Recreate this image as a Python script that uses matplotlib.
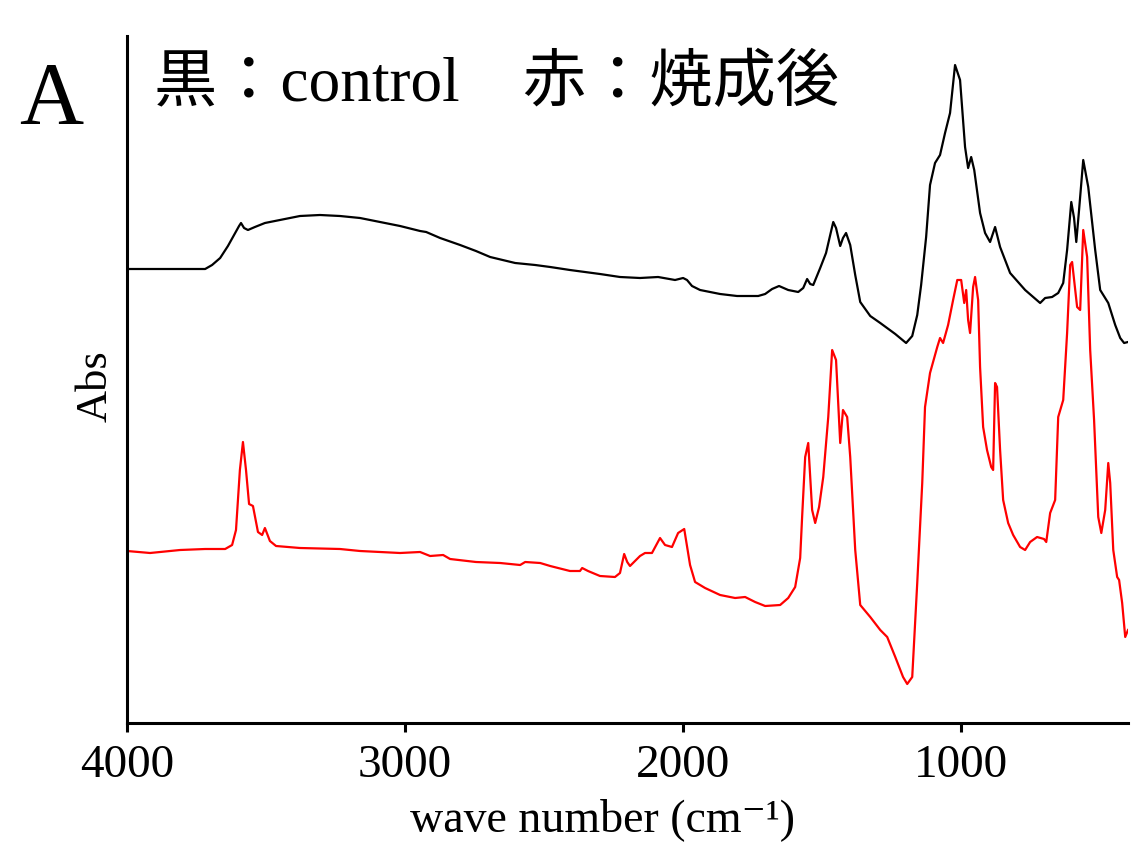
import matplotlib
matplotlib.use("Agg")
import matplotlib.pyplot as plt
import numpy as np

plt.rcParams['font.family'] = ['Liberation Serif', 'Noto Sans CJK JP', 'DejaVu Sans']

# control (black)
wn_control = [4000, 3917, 3809, 3719, 3694, 3665, 3637, 3615, 3597, 3590, 3579, 3565, 3540, 3504,
              3450, 3378, 3306, 3234, 3162, 3090, 3018, 2946, 2924, 2874, 2802, 2745, 2694, 2604,
              2532, 2478, 2407, 2299, 2227, 2155, 2090, 2029, 2000, 1986, 1968, 1939, 1867, 1806,
              1730, 1705, 1680, 1655, 1622, 1586, 1568, 1554, 1543, 1532, 1507, 1486, 1471, 1460,
              1450, 1435, 1425, 1414, 1399, 1381, 1363, 1327, 1291, 1237, 1198, 1176, 1158, 1144,
              1126, 1112, 1094, 1076, 1058, 1040, 1022, 1004, 986, 975, 964, 953, 932, 914, 896,
              878, 860, 824, 770, 716, 698, 673, 651, 633, 619, 604, 594, 586, 576, 561, 543, 518,
              500, 471, 446, 428, 414, 400]
abs_control = [.454, .454, .454, .454, .458, .465, .477, .488, .497, .500, .495, .493, .496, .500,
               .503, .507, .508, .507, .505, .501, .497, .492, .491, .485, .478, .472, .466, .460,
               .458, .456, .453, .449, .446, .445, .446, .443, .445, .443, .437, .433, .429, .427,
               .427, .429, .434, .437, .433, .431, .435, .444, .439, .438, .455, .470, .488, .501,
               .495, .477, .485, .490, .478, .448, .421, .407, .400, .389, .380, .387, .408, .438,
               .486, .538, .560, .568, .590, .610, .658, .643, .576, .555, .566, .553, .510, .490, .481,
               .496, .476, .450, .433, .420, .425, .426, .430, .440, .473, .521, .505, .481, .513, .563, .536, .473,
               .433, .420, .398, .385, .380, .381]

# after firing (red)
wn_fired = [4000, 3917, 3809, 3719, 3647, 3622, 3608, 3594, 3583, 3572, 3561, 3547, 3529, 3514,
            3504, 3486, 3464, 3378, 3234, 3162, 3018, 2946, 2910, 2863, 2838, 2745, 2658, 2586,
            2568, 2514, 2478, 2407, 2371, 2363, 2342, 2299, 2245, 2227, 2212, 2201, 2191, 2155,
            2137, 2112, 2083, 2065, 2040, 2018, 1996, 1975, 1957, 1921, 1867, 1813, 1777, 1741,
            1705, 1651, 1622, 1597, 1579, 1572, 1561, 1550, 1536, 1525, 1511, 1496, 1478, 1464,
            1450, 1435, 1425, 1410, 1399, 1381, 1363, 1327, 1291, 1266, 1237, 1209, 1194, 1176,
            1158, 1140, 1130, 1112, 1086, 1076, 1065, 1047, 1029, 1014, 1000, 989, 982, 975, 968,
            957, 950, 939, 932, 921, 907, 892, 885, 878, 871, 860, 849, 831, 813, 788, 770, 752,
            727, 702, 694, 680, 662, 651, 633, 619, 608, 601, 583, 572, 561, 547, 536, 522, 507,
            496, 482, 471, 464, 453, 439, 432, 421, 410, 400]
abs_fired = [.172, .170, .173, .174, .174, .178, .193, .253, .281, .253, .219, .217, .191, .188,
             .195, .182, .177, .175, .174, .172, .170, .171, .167, .168, .164, .161, .160, .158,
             .161, .160, .157, .152, .152, .155, .152, .147, .146, .150, .169, .161, .157, .167,
             .170, .170, .185, .178, .176, .190, .194, .158, .141, .135, .128, .125, .126, .121,
             .117, .118, .125, .136, .165, .206, .266, .280, .213, .200, .216, .246, .306, .373,
             .363, .280, .313, .306, .266, .173, .118, .106, .093, .086, .066, .046, .039, .046,
             .140, .240, .316, .350, .376, .385, .380, .398, .423, .443, .443, .420, .433, .403, .390,
             .436, .446, .423, .356, .296, .273, .256, .253, .340, .336, .273, .223, .200, .188, .176, .173, .181,
             .186, .184, .181, .210, .223, .306, .323, .390, .458, .461, .416, .413, .493, .466, .373, .303, .206,
             .190, .213, .260, .240, .173, .146, .143, .120, .086, .093]

fig = plt.figure(figsize=(11.33, 8.42), dpi=100)
ax = fig.add_axes([127/1133, 1 - 723/842, 1001/1133, 687/842])

ax.plot(wn_control, abs_control, color='black', lw=1.6)
ax.plot(wn_fired, abs_fired, color='#ff0000', lw=1.6)

ax.set_xlim(4000, 400)
ax.set_ylim(0, 0.687)
ax.set_xticks([4000, 3000, 2000, 1000])
ax.set_yticks([])
ax.tick_params(axis='x', direction='out', length=6.5, width=2.2, labelsize=34, pad=9)
for s in ['top', 'right']:
    ax.spines[s].set_visible(False)
for s in ['left', 'bottom']:
    ax.spines[s].set_linewidth(2.2)

ax.set_xlabel('wave number (cm\u207b\u00b9)', fontsize=33, va='center')
ax.xaxis.set_label_coords(0.475, -0.14)
ax.text(-0.031, 0.49, 'Abs', rotation=90, transform=ax.transAxes,
        ha='center', va='center', fontsize=32)

ax.text(0.027, 0.928, '黒：control\u3000赤：焼成後', transform=ax.transAxes,
        ha='left', va='center', fontsize=45.5)
fig.text(0.045, 0.879, 'A', ha='center', va='center', fontsize=64)

plt.savefig('out.png', dpi=100)
